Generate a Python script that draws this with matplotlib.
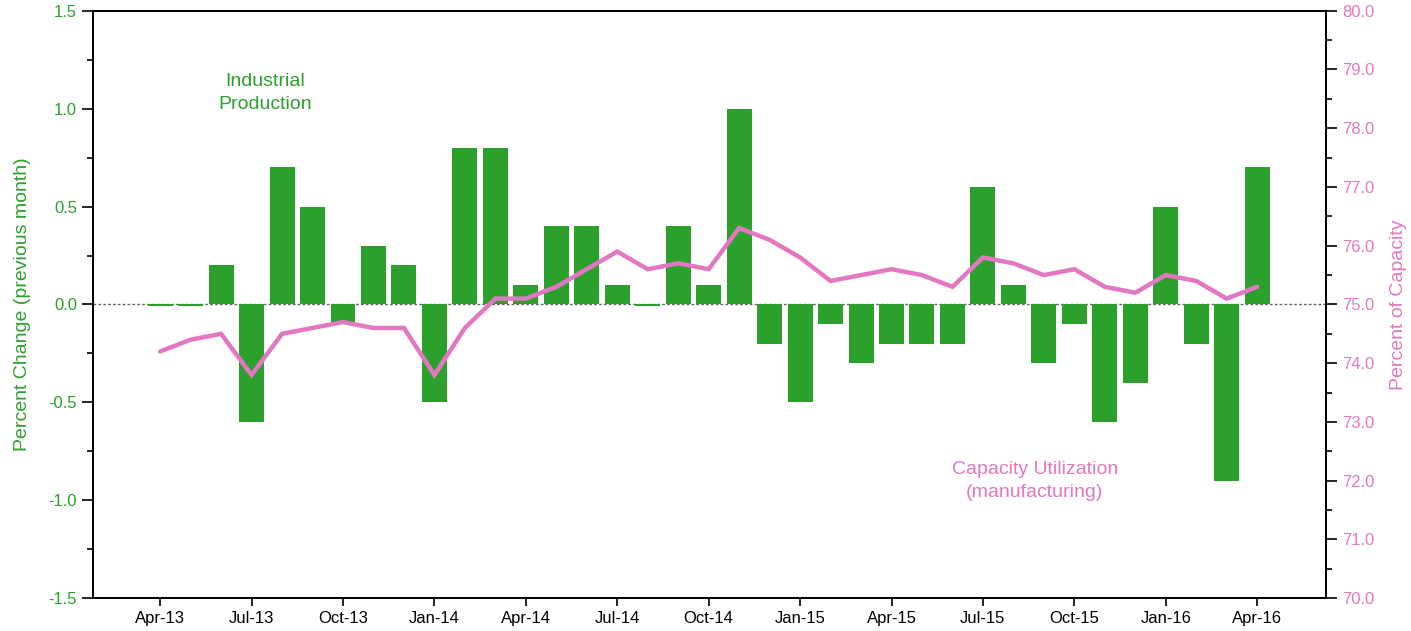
import matplotlib
matplotlib.use("Agg")
import matplotlib.pyplot as plt
from matplotlib.ticker import MultipleLocator, FormatStrFormatter
import numpy as np
import pandas as pd

# monthly data, Apr-13 .. Apr-16
months = pd.date_range("2013-04-01", periods=37, freq="MS")

# industrial production, percent change from previous month
ip_change = [-0.01, -0.01, 0.2, -0.6, 0.7, 0.5, -0.1, 0.3, 0.2, -0.5,
             0.8, 0.8, 0.1, 0.4, 0.4, 0.1, -0.01, 0.4, 0.1, 1.0,
             -0.2, -0.5, -0.1, -0.3, -0.2, -0.2, -0.2, 0.6, 0.1, -0.3,
             -0.1, -0.6, -0.4, 0.5, -0.2, -0.9, 0.7]

# capacity utilization, manufacturing (percent of capacity)
cap_util = [74.2, 74.4, 74.5, 73.8, 74.5, 74.6, 74.7, 74.6, 74.6, 73.8,
            74.6, 75.1, 75.1, 75.3, 75.6, 75.9, 75.6, 75.7, 75.6, 76.3,
            76.1, 75.8, 75.4, 75.5, 75.6, 75.5, 75.3, 75.8, 75.7, 75.5,
            75.6, 75.3, 75.2, 75.5, 75.4, 75.1, 75.3]

GREEN = "#2ca02c"
PINK = "#e377c2"

plt.rcParams["font.family"] = ["Liberation Sans", "DejaVu Sans"]

def main():
    x = np.arange(len(months))
    labels = [m.strftime("%b-%y") for m in months]

    fig = plt.figure(figsize=(14.11, 6.31), dpi=100)
    ax = fig.add_axes([0.066, 0.052, 0.874, 0.931])
    ax2 = ax.twinx()

    ax.bar(x, ip_change, width=0.82, color=GREEN, zorder=2)
    ax.axhline(0, color="#666666", lw=1.0, ls=(0, (2, 1.5)), zorder=1)

    ax2.plot(x, cap_util, color=PINK, lw=3.2, solid_capstyle="round",
             solid_joinstyle="miter", zorder=3)

    ax.set_xlim(-2.2, 38.27)
    ax.set_ylim(-1.5, 1.5)
    ax2.set_ylim(70, 80)

    ax.set_xticks(x[::3])
    ax.set_xticklabels(labels[::3], fontsize=12)

    ax.yaxis.set_major_locator(MultipleLocator(0.5))
    ax.yaxis.set_minor_locator(MultipleLocator(0.25))
    ax.yaxis.set_major_formatter(FormatStrFormatter("%.1f"))
    ax2.yaxis.set_major_locator(MultipleLocator(1.0))
    ax2.yaxis.set_minor_locator(MultipleLocator(0.5))
    ax2.yaxis.set_major_formatter(FormatStrFormatter("%.1f"))

    ax.tick_params(axis="y", which="major", length=8, width=1.2,
                   labelsize=12, labelcolor=GREEN)
    ax.tick_params(axis="y", which="minor", length=4, width=1.2)
    ax.tick_params(axis="x", length=6, width=1.2, labelsize=12, pad=3)
    ax2.tick_params(axis="y", which="major", length=8, width=1.2,
                    labelsize=12, labelcolor=PINK)
    ax2.tick_params(axis="y", which="minor", length=4, width=1.2)

    for a in (ax, ax2):
        for s in a.spines.values():
            s.set_linewidth(1.4)

    ax.set_ylabel("Percent Change (previous month)", color=GREEN,
                  fontsize=14)
    ax.yaxis.set_label_coords(-0.05, 0.5)
    ax2.set_ylabel("Percent of Capacity", color=PINK, fontsize=14)
    ax2.yaxis.set_label_coords(1.052, 0.5)

    ax.text(3.45, 1.08, "Industrial\nProduction", color=GREEN,
            fontsize=14, ha="center", va="center", linespacing=1.45)
    ax.text(28.7, -0.9, "Capacity Utilization\n(manufacturing)",
            color=PINK, fontsize=14, ha="center", va="center",
            linespacing=1.45)

    fig.savefig("out.png", dpi=100)


if __name__ == "__main__":
    main()
